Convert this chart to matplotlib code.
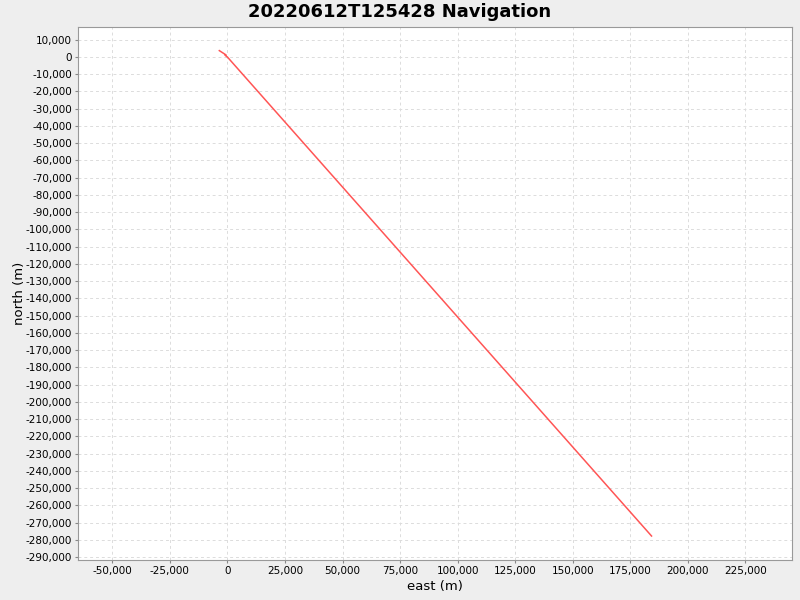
import numpy as np
import matplotlib.pyplot as plt
from matplotlib.ticker import FuncFormatter, MultipleLocator

# navigation track, east / north in metres
east = [-3500, -600, -1100, -400, 0, 184200]
north = [3700, 1200, 1300, 300, 0, -277800]

fig = plt.figure(figsize=(8, 6), dpi=100, facecolor='#eeeeee')
ax = fig.add_axes([0.098, 0.0667, 0.892, 0.8883])
ax.set_facecolor('white')
ax.plot(east, north, color='#ff5555', lw=1.1)

ax.set_xlim(-64700, 245200)
ax.set_ylim(-291700, 17400)
ax.xaxis.set_major_locator(MultipleLocator(25000))
ax.yaxis.set_major_locator(MultipleLocator(10000))
fmt = FuncFormatter(lambda v, p: '{:,.0f}'.format(v))
ax.xaxis.set_major_formatter(fmt)
ax.yaxis.set_major_formatter(fmt)
ax.tick_params(labelsize=7.5, length=2.5, color='#888888', pad=2)
ax.grid(True, ls=(0, (3, 3)), color='#dcdcdc', lw=0.7)
ax.set_axisbelow(True)
for s in ax.spines.values():
    s.set_color('#999999')

ax.set_xlabel('east (m)', fontsize=9.5, labelpad=3)
ax.set_ylabel('north (m)', fontsize=9.5, labelpad=0)
fig.suptitle('20220612T125428 Navigation', fontsize=13, fontweight='bold', y=0.995)

plt.savefig('out.png', dpi=100, facecolor=fig.get_facecolor())
